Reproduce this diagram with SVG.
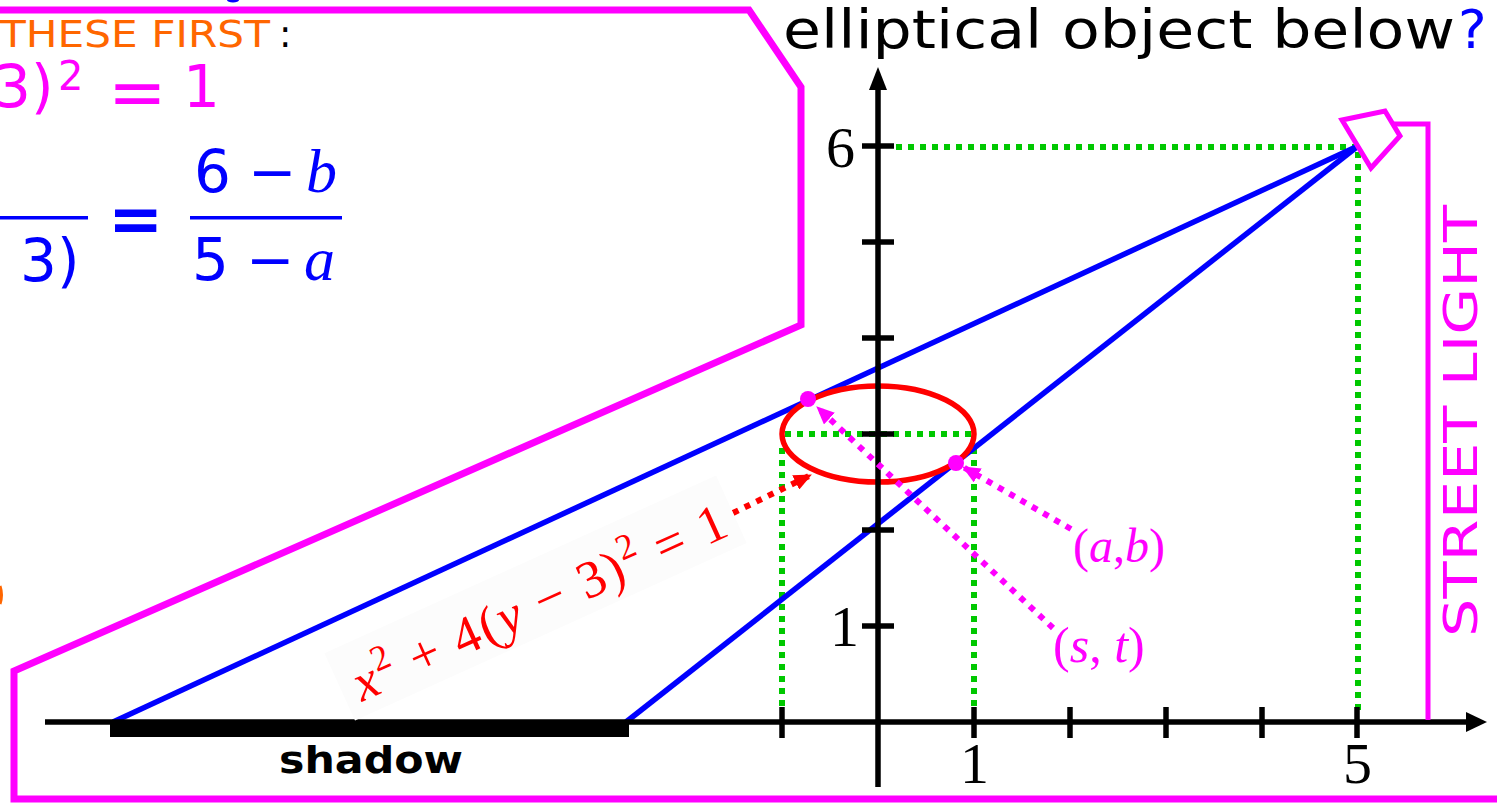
<svg xmlns="http://www.w3.org/2000/svg" width="1497" height="803" viewBox="0 0 1497 803">
<style>
.mag{fill:#ff00ff}
.blu{fill:#0000ff}
.sans{font-family:"DejaVu Sans",sans-serif}
.ser{font-family:"Liberation Serif","DejaVu Serif",serif}
.it{font-family:"Liberation Serif","DejaVu Serif",serif;font-style:italic}
.green{stroke:#00c800;stroke-width:6;stroke-dasharray:6 6;fill:none}
.axis{stroke:#000;stroke-width:5.5;fill:none}
.ray{stroke:#0000ff;stroke-width:5.5;fill:none}
.mdot{stroke:#ff00ff;stroke-width:6;stroke-dasharray:6 7;fill:none}
.rdot{stroke:#ff0000;stroke-width:6;stroke-dasharray:6 7;fill:none}
</style>
<defs>
<marker id="arrM" viewBox="0 0 18 16" refX="17" refY="8" markerWidth="18" markerHeight="16" markerUnits="userSpaceOnUse" orient="auto"><path d="M0,0 L18,8 L0,16 z" fill="#ff00ff"/></marker>
<marker id="arrR" viewBox="0 0 18 16" refX="17" refY="8" markerWidth="18" markerHeight="16" markerUnits="userSpaceOnUse" orient="auto"><path d="M0,0 L18,8 L0,16 z" fill="#ff0000"/></marker>
</defs>
<rect width="1497" height="803" fill="#fff"/>

<g id="frame">
<polyline points="-10,10 749,10 801,87 801,325 14,671 14,799 1510,799" fill="none" stroke="#ff00ff" stroke-width="7"/>
<ellipse cx="233" cy="0" rx="6" ry="2.5" fill="#0000ff"/>
<path d="M0,586 Q3,595 0,604" stroke="#ff6600" stroke-width="3" fill="none"/>
</g>

<g id="text-top-left">
<text x="0" y="47" class="sans" font-size="37" fill="#ff6600" textLength="270" lengthAdjust="spacingAndGlyphs">THESE FIRST</text>
<text x="279" y="47" class="sans" font-size="37" fill="#000">:</text>
<g class="sans mag" font-size="58">
<text x="-6" y="107">3</text>
<text x="31" y="107">)</text>
<text x="58" y="90" font-size="40">2</text>
<text x="108" y="116" font-size="70">=</text>
<text x="183" y="107">1</text>
</g>
<g class="blu" font-size="58">
<rect x="0" y="216" width="88" height="3.5" fill="#0000ff"/>
<text x="20" y="281" class="sans">3)</text>
<text x="108" y="242" class="sans" font-size="66" font-weight="bold">=</text>
<rect x="190" y="216" width="152" height="3.5" fill="#0000ff"/>
<text x="194" y="192" class="sans">6</text>
<text x="248" y="192" class="sans">−</text>
<text x="306" y="192" class="it" font-size="62">b</text>
<text x="192" y="280" class="sans">5</text>
<text x="246" y="280" class="sans">−</text>
<text x="304" y="280" class="it" font-size="62">a</text>
</g>
</g>

<g id="title">
<text x="783" y="48" class="sans" font-size="54" fill="#000" textLength="672" lengthAdjust="spacingAndGlyphs">elliptical object below</text>
<text x="1458" y="48" class="sans" font-size="54" fill="#0000ff">?</text>
</g>

<g id="guides">
<line x1="896" y1="147" x2="1356" y2="147" class="green"/>
<line x1="1358" y1="152" x2="1358" y2="712" class="green"/>
<line x1="785" y1="434" x2="972" y2="434" class="green"/>
<line x1="782" y1="448" x2="782" y2="712" class="green"/>
<line x1="974" y1="448" x2="974" y2="712" class="green"/>
</g>

<g id="rays">
<line x1="1358" y1="146" x2="113" y2="722" class="ray"/>
<line x1="1358" y1="146" x2="626" y2="722" class="ray"/>
</g>

<g id="ellipse">
<ellipse cx="878" cy="434" rx="96" ry="48" fill="none" stroke="#ff0000" stroke-width="5.5"/>
</g>

<g id="axes">
<line x1="45" y1="722" x2="1470" y2="722" class="axis"/>
<polygon points="1487,722 1466,712 1466,732" fill="#000"/>
<line x1="878" y1="787" x2="878" y2="86" class="axis"/>
<polygon points="878,67 869,90 887,90" fill="#000"/>
<g class="axis">
<line x1="782" y1="707" x2="782" y2="738"/>
<line x1="974" y1="707" x2="974" y2="738"/>
<line x1="1070" y1="707" x2="1070" y2="738"/>
<line x1="1166" y1="707" x2="1166" y2="738"/>
<line x1="1262" y1="707" x2="1262" y2="738"/>
<line x1="1357" y1="707" x2="1357" y2="738"/>
<line x1="862" y1="146" x2="894" y2="146"/>
<line x1="862" y1="242" x2="894" y2="242"/>
<line x1="862" y1="338" x2="894" y2="338"/>
<line x1="862" y1="434" x2="894" y2="434"/>
<line x1="862" y1="530" x2="894" y2="530"/>
<line x1="862" y1="626" x2="894" y2="626"/>
</g>
<g class="ser" font-size="58" fill="#000">
<text x="826" y="167">6</text>
<text x="830" y="646">1</text>
<text x="960" y="783">1</text>
<text x="1343" y="783">5</text>
</g>
</g>

<g id="shadow">
<rect x="110" y="720" width="519" height="17" fill="#000"/>
<text x="371" y="773" class="sans" font-size="38" font-weight="bold" text-anchor="middle" textLength="184" lengthAdjust="spacingAndGlyphs">shadow</text>
</g>

<g id="street-light">
<path d="M1393,124 H1428 V720" fill="none" stroke="#ff00ff" stroke-width="5"/>
<polygon points="1342,120 1385,111 1400,136 1371,168" fill="#fff" stroke="#ff00ff" stroke-width="5"/>
<text transform="translate(1477,637) rotate(-90)" class="sans" font-size="47" fill="#ff00ff" textLength="432" lengthAdjust="spacingAndGlyphs">STREET LIGHT</text>
</g>

<g id="points">
<circle cx="808" cy="399" r="8" fill="#ff00ff"/>
<circle cx="956" cy="463" r="8" fill="#ff00ff"/>
</g>

<g id="connectors">
<line x1="1071" y1="529" x2="963" y2="467" class="mdot" marker-end="url(#arrM)"/>
<line x1="1053" y1="628" x2="817" y2="407" class="mdot" marker-end="url(#arrM)"/>
<line x1="733" y1="513" x2="811" y2="475" class="rdot" marker-end="url(#arrR)"/>
</g>

<g id="labels">
<text x="1073" y="562" class="ser" font-size="48" fill="#ff00ff">(<tspan class="it">a</tspan>,<tspan class="it">b</tspan>)</text>
<text x="1053" y="662" class="ser" font-size="50" fill="#ff00ff">(<tspan class="it">s</tspan>, <tspan class="it">t</tspan>)</text>
<g transform="translate(362,702) rotate(-24.4)">
<rect x="-14" y="-60" width="430" height="74" fill="#fcfcfc"/>
<text x="0" y="0" class="ser" font-size="53" fill="#ff0000" textLength="405" lengthAdjust="spacing"><tspan class="it">x</tspan><tspan dy="-21" font-size="36">2</tspan><tspan dy="21"> + 4(</tspan><tspan class="it">y</tspan><tspan> − 3)</tspan><tspan dy="-21" font-size="36">2</tspan><tspan dy="21"> = 1</tspan></text>
</g>
</g>
</svg>
